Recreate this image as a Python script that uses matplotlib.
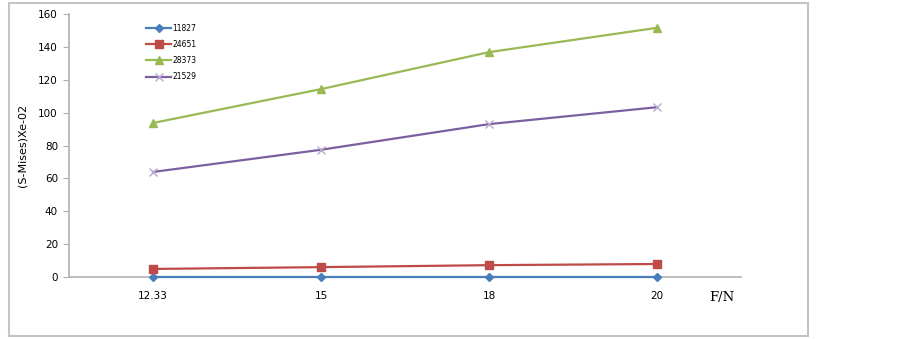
import numpy as np
import matplotlib.pyplot as plt
from matplotlib.patches import Rectangle

# datos
cargas = ["12.33", "15", "18", "20"]
s_11827 = [0.2, 0.2, 0.2, 0.2]
s_24651 = [4.9, 6.0, 7.2, 7.9]
s_28373 = [93.7, 114.3, 136.8, 151.6]
s_21529 = [63.9, 77.4, 93.0, 103.3]

series = [
    ("11827", s_11827, "#4a7ebb", "D", 4),
    ("24651", s_24651, "#be4b48", "s", 6),
    ("28373", s_28373, "#98b954", "^", 6),
    ("21529", s_21529, "#7d5fa0", "x", 6),
]

fig = plt.figure(figsize=(9.03, 3.39), dpi=100)

# marco exterior
fig.patches.append(Rectangle((9/903, 3/339), 799/903, 333/339,
                             transform=fig.transFigure, fill=False,
                             edgecolor="#c4c4c4", linewidth=1.5))

ax = fig.add_axes([69/903, 62/339, 672/903, 263/339])

x = np.arange(len(cargas))
for nombre, valores, color, marca, ms in series:
    if marca == "x":
        ax.plot(x, valores, color=color, linewidth=1.6, marker=marca,
                markersize=ms, markeredgecolor="#b8a8d0", markeredgewidth=1,
                label=nombre, zorder=3, clip_on=False)
    else:
        ax.plot(x, valores, color=color, linewidth=1.6, marker=marca,
                markersize=ms, label=nombre, zorder=3, clip_on=False)

ax.set_xlim(-0.5, 3.5)
ax.set_ylim(0, 160)
ax.set_yticks(range(0, 161, 20))
ax.set_xticks(x)
ax.set_xticklabels(cargas)

for lado in ["top", "right"]:
    ax.spines[lado].set_visible(False)
ax.spines["left"].set_color("#b0b0b0")
ax.spines["bottom"].set_color("#b0b0b0")
ax.spines["left"].set_linewidth(1.2)
ax.spines["bottom"].set_linewidth(1.2)

ax.tick_params(axis="y", length=4, color="#b0b0b0", labelsize=7.5, pad=4)
ax.tick_params(axis="x", length=0, labelsize=7.5, pad=10)

ax.set_ylabel("(S-Mises)Xe-02", fontsize=8, labelpad=8)

fig.text(722/903, 1 - 298/339, "F/N", family="DejaVu Serif",
         fontsize=9.5, ha="center", va="center")

ax.legend(loc="upper left", bbox_to_anchor=(0.105, 0.99), frameon=False,
          fontsize=5.5, handlelength=3.2, labelspacing=0.95, handletextpad=0.2)

fig.savefig("out.png", dpi=100)
